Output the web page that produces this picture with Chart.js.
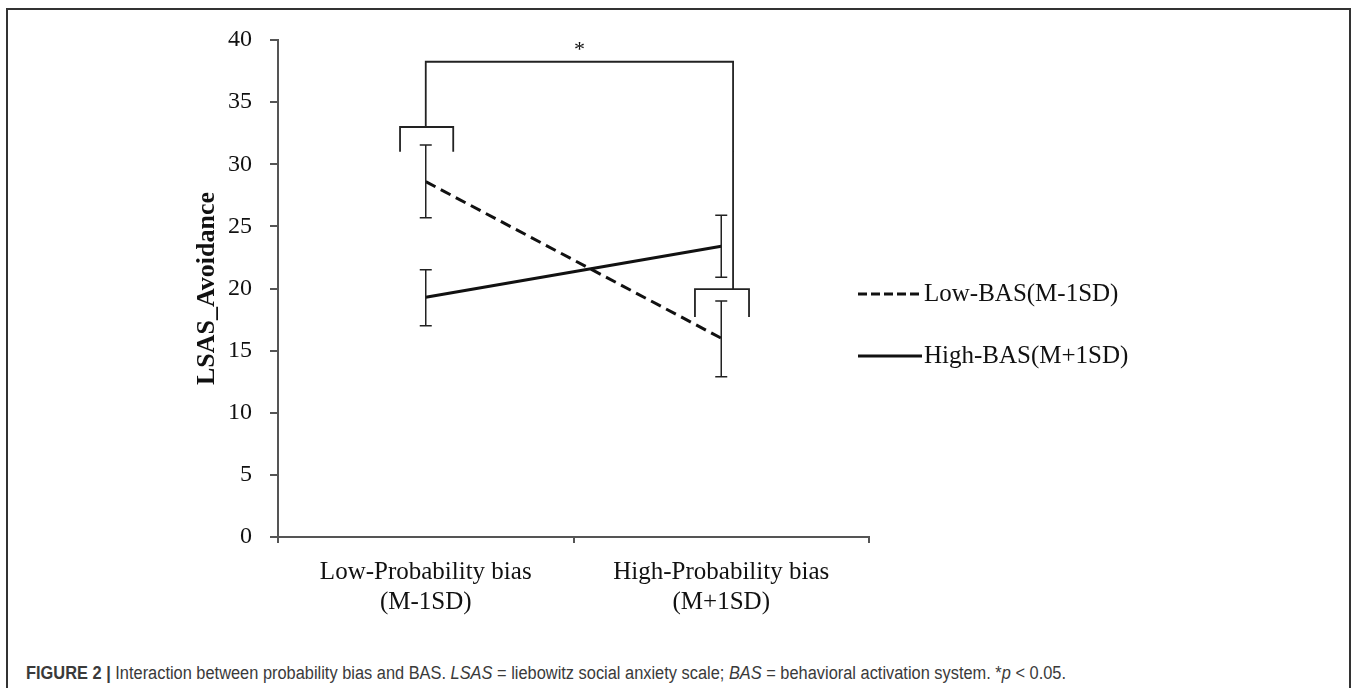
<!DOCTYPE html>
<html>
<head>
<meta charset="utf-8">
<script src="https://cdn.jsdelivr.net/npm/chart.js@4.4.1/dist/chart.umd.min.js"></script>
<style>
  html, body { margin: 0; padding: 0; background: #fff; }
  body { width: 1357px; height: 688px; position: relative; overflow: hidden; }
  #frame { position: absolute; left: 6px; top: 8px; width: 1345px; height: 700px; box-sizing: border-box;
           border: 2px solid #333; border-bottom: none; }
  #chart { position: absolute; left: 0; top: 0; }
  #caption { position: absolute; left: 26px; top: 662px; font-family: "Liberation Sans Narrow", "Liberation Sans", sans-serif;
             font-size: 18px; line-height: 22px; color: #3a3a3a; white-space: nowrap; transform-origin: 0 0; }
</style>
</head>
<body>
<div id="frame"></div>
<canvas id="chart" width="1357" height="640"></canvas>
<div id="caption"><b>FIGURE 2 |</b> Interaction between probability bias and BAS. <i>LSAS</i> = liebowitz social anxiety scale; <i>BAS</i> = behavioral activation system. *<i>p</i> &lt; 0.05.</div>
<script>
// data
const categories = [['Low-Probability bias', '(M-1SD)'], ['High-Probability bias', '(M+1SD)']]
const seriesNames = ['Low-BAS(M-1SD)', 'High-BAS(M+1SD)']
const lowBAS = [28.6, 16.0]
const highBAS = [19.3, 23.4]
const lowBASErr = [[25.7, 31.55], [12.9, 19.0]]
const highBASErr = [[17.0, 21.5], [20.9, 25.9]]
const yMin = 0
const yMax = 40
const yStep = 5
const yTitle = 'LSAS_Avoidance'

// significance brackets, in data units (category index, y value)
const groupBrackets = [
  { from: -0.087, to: 0.093, top: 33.0, foot: 31.0 },
  { from: 0.911, to: 1.094, top: 19.95, foot: 17.7 }
]
const sigBracket = { left: 0.0, right: 1.04, top: 38.25 }
const sigMark = { x: 0.52, y: 39.6, text: '*' }

const serif = 'Liberation Serif, Times New Roman, serif'

const errorBars = {
  id: 'errorBars',
  afterDatasetsDraw(chart) {
    const { ctx, scales: { x, y } } = chart
    ctx.save()
    ctx.strokeStyle = '#222'
    ctx.lineWidth = 1.5
    chart.data.datasets.forEach(ds => {
      ds.errors.forEach((e, i) => {
        const px = x.getPixelForValue(i)
        const lo = y.getPixelForValue(e[0])
        const hi = y.getPixelForValue(e[1])
        ctx.beginPath()
        ctx.moveTo(px, lo); ctx.lineTo(px, hi)
        ctx.moveTo(px - 6, lo); ctx.lineTo(px + 6, lo)
        ctx.moveTo(px - 6, hi); ctx.lineTo(px + 6, hi)
        ctx.stroke()
      })
    })
    ctx.restore()
  }
}

const brackets = {
  id: 'brackets',
  afterDatasetsDraw(chart) {
    const { ctx, scales: { x, y } } = chart
    ctx.save()
    ctx.strokeStyle = '#222'
    ctx.lineWidth = 1.8
    ctx.beginPath()
    groupBrackets.forEach(b => {
      ctx.moveTo(x.getPixelForValue(b.from), y.getPixelForValue(b.foot))
      ctx.lineTo(x.getPixelForValue(b.from), y.getPixelForValue(b.top))
      ctx.lineTo(x.getPixelForValue(b.to), y.getPixelForValue(b.top))
      ctx.lineTo(x.getPixelForValue(b.to), y.getPixelForValue(b.foot))
    })
    ctx.moveTo(x.getPixelForValue(sigBracket.left), y.getPixelForValue(groupBrackets[0].top))
    ctx.lineTo(x.getPixelForValue(sigBracket.left), y.getPixelForValue(sigBracket.top))
    ctx.lineTo(x.getPixelForValue(sigBracket.right), y.getPixelForValue(sigBracket.top))
    ctx.lineTo(x.getPixelForValue(sigBracket.right), y.getPixelForValue(groupBrackets[1].top))
    ctx.stroke()
    ctx.fillStyle = '#111'
    ctx.font = '22px ' + serif
    ctx.textAlign = 'center'
    ctx.textBaseline = 'middle'
    ctx.fillText(sigMark.text, x.getPixelForValue(sigMark.x), y.getPixelForValue(sigMark.y) + 5)
    ctx.restore()
  }
}

const sideLegend = {
  id: 'sideLegend',
  afterDraw(chart, args, opts) {
    const { ctx } = chart
    chart.data.datasets.forEach((ds, i) => {
      const yy = opts.top + i * opts.gap
      ctx.save()
      ctx.strokeStyle = ds.borderColor
      ctx.lineWidth = ds.borderWidth
      ctx.setLineDash(ds.borderDash ? opts.dash : [])
      ctx.beginPath()
      ctx.moveTo(opts.left, yy)
      ctx.lineTo(opts.left + opts.lineLen, yy)
      ctx.stroke()
      ctx.setLineDash([])
      ctx.fillStyle = '#111'
      ctx.font = '25px ' + serif
      ctx.textBaseline = 'middle'
      ctx.fillText(ds.label, opts.left + opts.lineLen + 2, yy)
      ctx.restore()
    })
  }
}

const chart = new Chart(document.getElementById('chart'), {
  type: 'line',
  data: {
    labels: categories,
    datasets: [{
      label: seriesNames[0],
      data: lowBAS,
      errors: lowBASErr,
      borderColor: '#111',
      borderWidth: 3,
      borderDash: [11, 6],
      pointRadius: 0,
      tension: 0
    }, {
      label: seriesNames[1],
      data: highBAS,
      errors: highBASErr,
      borderColor: '#111',
      borderWidth: 3,
      pointRadius: 0,
      tension: 0
    }]
  },
  options: {
    responsive: false,
    animation: false,
    layout: { padding: { left: 180, right: 488, top: 40, bottom: 0 } },
    scales: {
      x: {
        offset: true,
        grid: { offset: true, drawOnChartArea: false, tickLength: 6, color: '#555', lineWidth: 2 },
        border: { color: '#555', width: 2 },
        ticks: { color: '#111', padding: 14, font: { family: serif, size: 25 } },
        afterFit(scale) { scale.height = 103 }
      },
      y: {
        min: yMin,
        max: yMax,
        grid: { drawOnChartArea: false, tickLength: 8, color: '#555', lineWidth: 2 },
        border: { color: '#555', width: 2 },
        ticks: { stepSize: yStep, color: '#111', padding: 18, font: { family: serif, size: 24 } },
        title: {
          display: true,
          text: yTitle,
          color: '#111',
          padding: { top: 12, bottom: 0 },
          font: { family: serif, size: 26, weight: 'bold' }
        },
        afterFit(scale) { scale.width = 98 }
      }
    },
    plugins: {
      legend: { display: false },
      tooltip: { enabled: false },
      sideLegend: { left: 858, top: 294, gap: 62, lineLen: 64, dash: [9, 4] }
    }
  },
  plugins: [errorBars, brackets, sideLegend]
})

// squeeze the caption to the width it has in the figure
const cap = document.getElementById('caption')
const capWidth = 1040
cap.style.transform = 'scaleX(' + (capWidth / cap.getBoundingClientRect().width) + ')'
</script>
</body>
</html>
